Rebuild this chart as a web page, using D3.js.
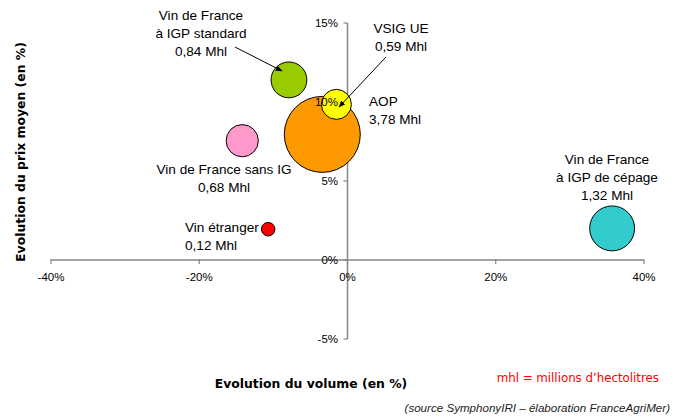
<!DOCTYPE html>
<html lang="fr">
<head>
<meta charset="utf-8">
<title>Evolution volume / prix</title>
<script src="https://d3js.org/d3.v7.min.js"></script>
<style>
  body { margin: 0; background: #fff; }
  svg text { font-family: "Liberation Sans", Arial, sans-serif; fill: #000; }
  .tick-label { font-size: 11.5px; }
  .bubble-label { font-size: 13.6px; }
  .axis-title { font-family: "DejaVu Sans", Verdana, sans-serif !important; font-weight: bold; font-size: 12.4px; }
</style>
</head>
<body>
<svg id="chart" width="676" height="418"></svg>
<script>
// categories and values
var categories = ["Vin de France à IGP standard", "VSIG UE", "AOP", "Vin de France sans IG", "Vin étranger", "Vin de France à IGP de cépage"];
var volumeChange = [-7.9, -1.5, -3.4, -14.2, -10.7, 35.7];   // evolution du volume (%)
var priceChange  = [11.4, 9.85, 7.95, 7.55, 1.95, 2.0];       // evolution du prix moyen (%)
var volumes      = [0.84, 0.59, 3.78, 0.68, 0.12, 1.32];      // Mhl
var colors       = ["#99cc00", "#ffff00", "#ff9900", "#ff99cc", "#ff0000", "#33cccc"];
var xTicks = [-40, -20, 0, 20, 40];
var yTicks = [-5, 0, 5, 10, 15];

var svg = d3.select("#chart");
var x = d3.scaleLinear().domain([-40, 40]).range([51, 644]);
var y = d3.scaleLinear().domain([-5, 15]).range([339, 23]);
var r = d3.scaleSqrt().domain([0, 3.78]).range([0, 38]);
var fmt = function(v) { return v + "%"; };
var mhl = function(v) { return d3.format(".2f")(v).replace(".", ",") + " Mhl"; };

var axisColor = "#868686";

// axes lines (under bubbles)
svg.append("line").attr("x1", x(-40)).attr("x2", x(40)).attr("y1", y(0)).attr("y2", y(0))
  .attr("stroke", axisColor).attr("stroke-width", 1.5);
svg.append("line").attr("x1", x(0)).attr("x2", x(0)).attr("y1", y(15)).attr("y2", y(-5))
  .attr("stroke", axisColor).attr("stroke-width", 1.5);

svg.selectAll(".xt").data(xTicks).enter().append("line")
  .attr("x1", d => x(d)).attr("x2", d => x(d)).attr("y1", y(0) - 1).attr("y2", y(0) + 4)
  .attr("stroke", axisColor).attr("stroke-width", 1.2);
svg.selectAll(".yt").data(yTicks).enter().append("line")
  .attr("x1", x(0) - 4).attr("x2", x(0)).attr("y1", d => y(d)).attr("y2", d => y(d))
  .attr("stroke", axisColor).attr("stroke-width", 1.2);

// bubbles
var idx = d3.range(categories.length).sort((a, b) => volumes[b] - volumes[a]);
svg.selectAll("circle").data(idx).enter().append("circle")
  .attr("cx", i => x(volumeChange[i]))
  .attr("cy", i => y(priceChange[i]))
  .attr("r", i => r(volumes[i]))
  .attr("fill", i => colors[i])
  .attr("stroke", "#000").attr("stroke-width", 1);

// tick labels
svg.selectAll(".xl").data(xTicks).enter().append("text")
  .attr("class", "tick-label").attr("x", d => x(d)).attr("y", 281)
  .attr("text-anchor", "middle").text(fmt);
svg.selectAll(".yl").data(yTicks).enter().append("text")
  .attr("class", "tick-label").attr("x", 338).attr("y", d => y(d) + 4)
  .attr("text-anchor", "end").text(fmt);

// bubble labels
var labelLayout = [
  { lines: ["Vin de France", "à IGP standard"], x: 201, y: 20, anchor: "middle" },
  { lines: ["VSIG UE"], x: 401, y: 33, anchor: "middle" },
  { lines: ["AOP"], x: 369, y: 106, anchor: "start" },
  { lines: ["Vin de France sans IG"], x: 224, y: 174, anchor: "middle" },
  { lines: ["Vin étranger"], x: 185, y: 232, anchor: "start" },
  { lines: ["Vin de France", "à IGP de cépage"], x: 607, y: 164, anchor: "middle" }
];
labelLayout.forEach(function(l, i) {
  var t = svg.append("text").attr("class", "bubble-label")
    .attr("x", l.x).attr("y", l.y).attr("text-anchor", l.anchor);
  l.lines.concat([mhl(volumes[i])]).forEach(function(s, k) {
    t.append("tspan").attr("x", l.x).attr("dy", k === 0 ? 0 : 17.8).text(s);
  });
});

// arrows
svg.append("defs").append("marker").attr("id", "ah")
  .attr("viewBox", "0 0 10 10").attr("refX", 9).attr("refY", 5)
  .attr("markerWidth", 7).attr("markerHeight", 7).attr("orient", "auto")
  .append("path").attr("d", "M0,1 L10,5 L0,9 Z").attr("fill", "#000");
var arrows = [[235, 47, 282, 71], [386, 57, 339, 107]];
arrows.forEach(function(a) {
  svg.append("line").attr("x1", a[0]).attr("y1", a[1]).attr("x2", a[2]).attr("y2", a[3])
    .attr("stroke", "#000").attr("stroke-width", 1).attr("marker-end", "url(#ah)");
});

// titles and notes
svg.append("text").attr("class", "axis-title").attr("x", 311).attr("y", 388)
  .attr("text-anchor", "middle").text("Evolution du volume (en %)");
svg.append("text").attr("class", "axis-title")
  .attr("transform", "translate(25,152) rotate(-90)")
  .attr("text-anchor", "middle").text("Evolution du prix moyen (en %)");
svg.append("text").attr("x", 659).attr("y", 382).attr("text-anchor", "end")
  .style("font-family", "'DejaVu Sans', Verdana, sans-serif").style("font-size", "11.8px")
  .style("fill", "#ff0000").text("mhl = millions d’hectolitres");
svg.append("text").attr("x", 670).attr("y", 412).attr("text-anchor", "end")
  .style("font-size", "11.6px").style("font-style", "italic").style("fill", "#222")
  .text("(source SymphonyIRI – élaboration FranceAgriMer)");
</script>
</body>
</html>
